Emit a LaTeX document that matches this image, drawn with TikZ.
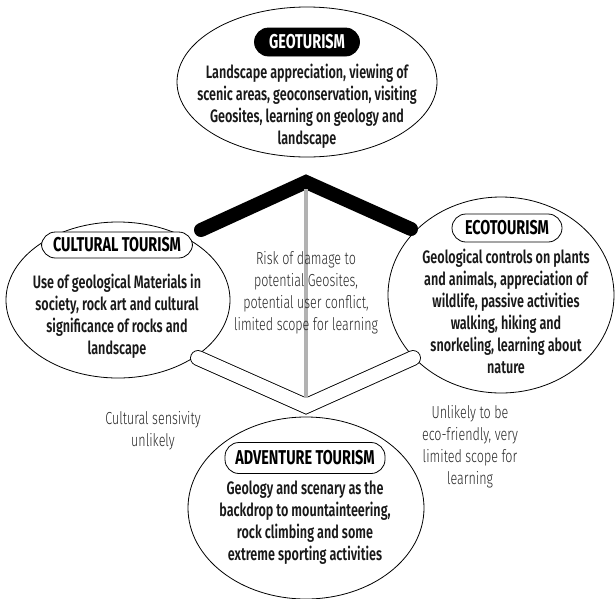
\documentclass[tikz,border=0pt]{standalone}
\usepackage{fontspec}
\setmainfont{Fira Sans}[FakeStretch=0.72]
\newfontfamily\lightfont{Fira Sans Light}[FakeStretch=0.72]
\newfontfamily\medfont{Fira Sans SemiBold}[FakeStretch=0.70]
\usetikzlibrary{shapes.geometric}
\begin{document}
\begin{tikzpicture}[x=1pt,y=-1pt]
\tikzset{
 oval/.style={ellipse, draw, line width=0.8pt, fill=white, inner sep=0pt},
 body/.style={align=center, font=\medfont\fontsize{18}{22}\selectfont, text=black!90},
 hdr/.style={draw, rounded corners=14pt, line width=0.8pt, font=\bfseries\fontsize{20}{22}\selectfont, inner xsep=5pt, minimum height=28pt, fill=white},
 note/.style={align=center, font=\lightfont\fontsize{17.4}{22}\selectfont, text=black!85},
}
\useasboundingbox (0,0) rectangle (616,598);
% ellipses
\node[oval, minimum width=260, minimum height=150] (geoE) at (307,82) {};
\node[oval, minimum width=224, minimum height=156] (culE) at (118,300) {};
\node[oval, minimum width=226, minimum height=196] (ecoE) at (501,295) {};
\node[oval, minimum width=236, minimum height=182] (advE) at (306,508) {};
% connectors
\coordinate (bl) at (201,230);
\coordinate (bt) at (306,182);
\coordinate (br) at (411,229);
\draw[line width=14pt, line cap=round, line join=miter] (bl) -- (bt) -- (br);
\coordinate (cl) at (198,358);
\coordinate (cb) at (306,406);
\coordinate (cr) at (413,358);
\draw[line width=0.9pt, double=white, double distance=14pt, line cap=round, line join=miter] (cl) -- (cb) -- (cr);
\coordinate (gt) at (306,189);
\coordinate (gb) at (306,398);
\draw[line width=4.5pt, color=black!30] (gt) -- (gb);
% titles
\node[hdr, fill=black, text=white, minimum width=105] (geoT) at (307,42) {GEOTURISM};
\node[hdr, minimum width=151, minimum height=26pt] (culT) at (117,245) {CULTURAL TOURISM};
\node[hdr, minimum width=110] (ecoT) at (507,228) {ECOTOURISM};
\node[hdr, minimum width=160, minimum height=31pt] (advT) at (305,458) {ADVENTURE TOURISM};
% bodies
\node[body] (geoB) at (307,106) {Landscape appreciation, viewing of\\scenic areas, geoconservation, visiting\\Geosites, learning on geology and\\landscape};
\node[body] (culB) at (117,316) {Use of geological Materials in\\society, rock art and cultural\\significance of rocks and\\landscape};
\node[body] (ecoB) at (506,311) {Geological controls on plants\\and animals, appreciation of\\wildlife, passive activities\\walking, hiking and\\snorkeling, learning about\\nature};
\node[body] (advB) at (305,523) {Geology and scenary as the\\backdrop to mountainteering,\\rock climbing and some\\extreme sporting activities};
% notes
\node[note] (midN) at (306,293) {Risk of damage to\\potential Geosites,\\potential user conflict,\\limited scope for learning};
\node[note] (culN) at (153,431) {Cultural sensivity\\unlikely};
\node[note] (ecoN) at (470,447) {Unlikely to be\\eco-friendly, very\\limited scope for\\learning};
\end{tikzpicture}
\end{document}
